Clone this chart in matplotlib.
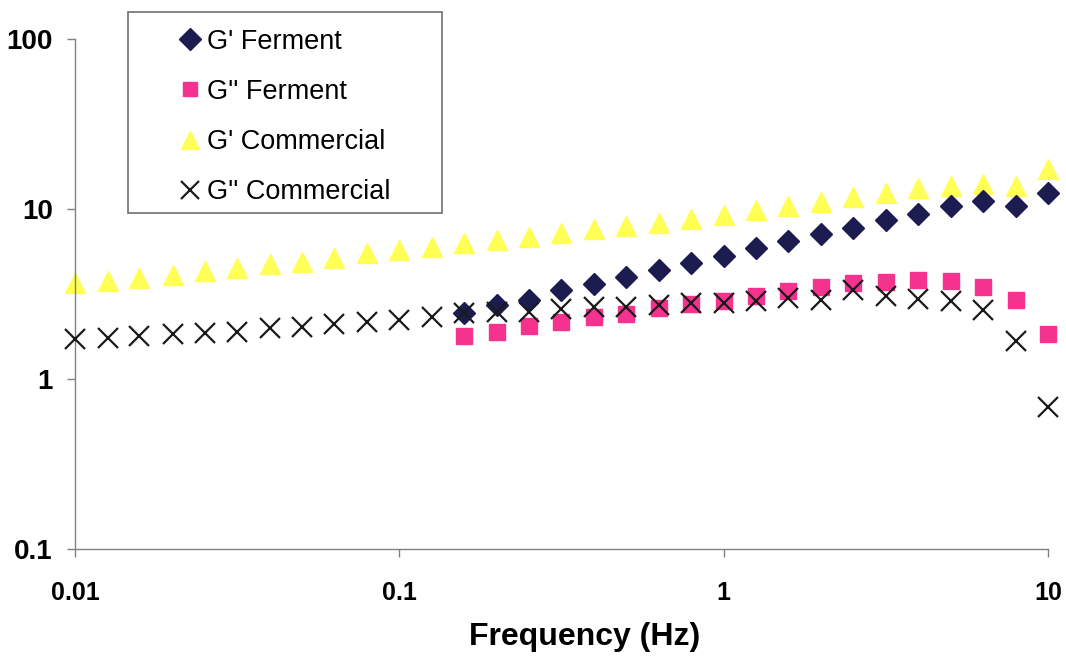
import matplotlib
matplotlib.use("Agg")
import matplotlib.pyplot as plt
from matplotlib.patches import Rectangle
from matplotlib.ticker import FixedLocator, NullLocator, FuncFormatter

plt.rcParams['font.family'] = ['Liberation Sans', 'DejaVu Sans']

# frequency (Hz)
freq = [0.01, 0.0126, 0.0158, 0.02, 0.0251, 0.0316, 0.0398, 0.0501, 0.0631, 0.0794,
        0.1, 0.126, 0.158, 0.2, 0.251, 0.316, 0.398, 0.501, 0.631, 0.794,
        1, 1.26, 1.58, 2, 2.51, 3.16, 3.98, 5.01, 6.31, 7.94, 10]
freq_ferm = [0.158, 0.2, 0.251, 0.316, 0.398, 0.501, 0.631, 0.794,
             1, 1.26, 1.58, 2, 2.51, 3.16, 3.98, 5.01, 6.31, 7.94, 10]

g1_ferm = [2.44, 2.72, 2.92, 3.34, 3.62, 3.98, 4.38, 4.81, 5.29, 5.92,
           6.48, 7.13, 7.76, 8.61, 9.3, 10.4, 11.1, 10.4, 12.4]
g2_ferm = [1.80, 1.90, 2.05, 2.17, 2.32, 2.40, 2.60, 2.76, 2.88, 3.09,
           3.31, 3.49, 3.68, 3.73, 3.82, 3.77, 3.49, 2.92, 1.84]
g1_comm = [3.66, 3.79, 3.91, 4.09, 4.3, 4.5, 4.73, 4.9, 5.17, 5.48,
           5.74, 6.0, 6.28, 6.57, 6.87, 7.2, 7.6, 7.94, 8.3, 8.7,
           9.22, 9.87, 10.4, 11.0, 11.8, 12.4, 13.3, 13.7, 14.0, 13.7, 17.2]
g2_comm = [1.71, 1.74, 1.79, 1.84, 1.87, 1.90, 1.99, 2.03, 2.11, 2.17,
           2.22, 2.32, 2.43, 2.49, 2.49, 2.57, 2.66, 2.66, 2.72, 2.79,
           2.81, 2.89, 3.01, 2.92, 3.34, 3.09, 2.95, 2.87, 2.55, 1.68, 0.687]

W, H = 1066, 658
fig = plt.figure(figsize=(W / 100, H / 100), dpi=100)
ax = fig.add_axes([75 / W, 1 - 549 / H, (1048 - 75) / W, (549 - 39) / H])

h3, = ax.plot(freq, g1_comm, ls='none', marker='^', ms=14, color='#ffff55',
              mec='#ffff55', clip_on=False, zorder=2, label="G' Commercial")
h1, = ax.plot(freq_ferm, g1_ferm, ls='none', marker='D', ms=11.5, color='#1c1c50',
              mec='#1c1c50', clip_on=False, zorder=3, label="G' Ferment")
h2, = ax.plot(freq_ferm, g2_ferm, ls='none', marker='s', ms=11, color='#f5338f',
              mec='#f5338f', clip_on=False, zorder=4, label="G'' Ferment")
h4, = ax.plot(freq, g2_comm, ls='none', marker='x', ms=14, mew=1.6, color='#1a1a1a',
              clip_on=False, zorder=5, label="G'' Commercial")

ax.set_xscale('log')
ax.set_yscale('log')
ax.set_xlim(0.01, 10)
ax.set_ylim(0.1, 100)

fmt = FuncFormatter(lambda v, p: '%g' % v)
ax.xaxis.set_major_locator(FixedLocator([0.01, 0.1, 1, 10]))
ax.yaxis.set_major_locator(FixedLocator([0.1, 1, 10, 100]))
ax.xaxis.set_minor_locator(NullLocator())
ax.yaxis.set_minor_locator(NullLocator())
ax.xaxis.set_major_formatter(fmt)
ax.yaxis.set_major_formatter(fmt)

for s in ['top', 'right']:
    ax.spines[s].set_visible(False)
for s in ['left', 'bottom']:
    ax.spines[s].set_color('#808080')
    ax.spines[s].set_linewidth(1.0)

ax.tick_params(axis='y', length=6, width=1, color='#808080', pad=10,
               labelsize=20)
ax.tick_params(axis='x', length=6, width=1, color='#808080', pad=17,
               labelsize=18)
for lab in ax.get_xticklabels() + ax.get_yticklabels():
    lab.set_fontweight('bold')

ax.set_xlabel('Frequency (Hz)', fontsize=23, fontweight='bold', labelpad=12)
ax.xaxis.label.set_x((585 - 75) / (1048 - 75))

# legend box
fig.patches.append(Rectangle((128 / W, 1 - 213 / H), (442 - 128) / W, (213 - 12) / H,
                             transform=fig.transFigure, fill=False,
                             edgecolor='#707070', linewidth=1.2, zorder=10))
leg = fig.legend(handles=[h1, h2, h3, h4], loc='center',
                 bbox_to_anchor=(284 / W, 1 - 117 / H), frameon=False,
                 fontsize=19.5, handlelength=0.9, handletextpad=0.2,
                 labelspacing=0.89, markerscale=0.95, borderpad=0)

fig.savefig('out.png', dpi=100)
